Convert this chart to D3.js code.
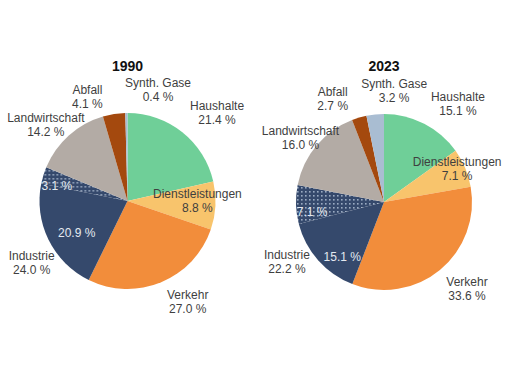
<!DOCTYPE html>
<html lang="de">
<head>
<meta charset="UTF-8">
<title>Emissionen nach Sektor 1990 / 2023</title>
<script src="https://cdn.jsdelivr.net/npm/d3@7"></script>
<style>
  body { margin: 0; background: #fff; }
  svg text { font-family: "Liberation Sans", Arial, sans-serif; }
</style>
</head>
<body>
<svg id="chart" width="510" height="373"></svg>
<script>
// Sektoren im Uhrzeigersinn ab 12 Uhr
var sectors = ['Haushalte', 'Dienstleistungen', 'Verkehr', 'Industrie', 'Industrie (Prozess)', 'Landwirtschaft', 'Abfall', 'Synth. Gase']
var years = ['1990', '2023']
var values1990 = [21.4, 8.8, 27.0, 20.9, 3.1, 14.2, 4.1, 0.4]
var values2023 = [15.1, 7.1, 33.6, 15.1, 7.1, 16.0, 2.7, 3.2]
var industrieTotal = [24.0, 22.2]
var colors = ['#6fcf98', '#f8c46c', '#f28d3b', '#35496c', 'dots', '#b3aba5', '#a4490e', '#a9bdd2']

// Label-Verschiebung gegenüber dem Bogenschwerpunkt [dx, dy]
var nudge1990 = [[16, 4], [-5, -4], [15, -8], [3, 5], [1, 7], [-3, 12], [-22, 12], [32, 7]]
var nudge2023 = [[20, 7], [4, -4], [8, -4], [3, 15], [3, 8], [7, 11], [-18, 10], [22, 6]]
var industrieNudge = [[10, 10], [-9, -19]]

var svg = d3.select('#chart')
var R = 88
var centers = [[127.5, 201], [384, 202]]

var defs = svg.append('defs')
var pat = defs.append('pattern').attr('id', 'dots')
  .attr('width', 4).attr('height', 4).attr('patternUnits', 'userSpaceOnUse')
pat.append('rect').attr('width', 4).attr('height', 4).attr('fill', '#35496c')
pat.append('rect').attr('x', 1).attr('y', 1).attr('width', 1.6).attr('height', 1.6).attr('fill', '#9aabc2')

var pie = d3.pie().sort(null).value(function (d) { return d })
var arc = d3.arc().innerRadius(0).outerRadius(R)
var outerArc = d3.arc().innerRadius(118).outerRadius(118)
var midArc = d3.arc().innerRadius(75).outerRadius(75)
var innerArc = d3.arc().innerRadius(60).outerRadius(60)

function fmt (v) { return v.toFixed(1) + ' %' }

function drawLabel (g, pos, lines, color) {
  var t = g.append('text')
    .attr('text-anchor', 'middle')
    .attr('font-size', 12)
    .attr('fill', color)
  var off = (lines.length - 1) * 7
  lines.forEach(function (l, i) {
    t.append('tspan').attr('x', pos[0]).attr('y', pos[1] - off + i * 14)
      .attr('dy', '0.35em').text(l)
  })
}

[values1990, values2023].forEach(function (vals, k) {
  var nudge = k === 0 ? nudge1990 : nudge2023
  var g = svg.append('g').attr('transform', 'translate(' + centers[k][0] + ',' + centers[k][1] + ')')
  var arcs = pie(vals)

  g.selectAll('path').data(arcs).enter().append('path')
    .attr('d', arc)
    .attr('fill', function (d, i) { return colors[i] === 'dots' ? 'url(#dots)' : colors[i] })

  svg.append('text')
    .attr('x', centers[k][0]).attr('y', 71)
    .attr('text-anchor', 'middle')
    .attr('font-size', 14).attr('font-weight', 'bold').attr('fill', '#111')
    .text(years[k])

  arcs.forEach(function (d, i) {
    var c, lines, color = '#3f3f3f'
    if (i === 3 || i === 4) {
      c = i === 3 ? innerArc.centroid(d) : midArc.centroid(d)
      lines = [fmt(vals[i])]
      color = '#e4e9f0'
    } else if (i === 1) {
      c = midArc.centroid(d)
      lines = [sectors[i], fmt(vals[i])]
    } else {
      c = outerArc.centroid(d)
      lines = [sectors[i], fmt(vals[i])]
    }
    drawLabel(g, [c[0] + nudge[i][0], c[1] + nudge[i][1]], lines, color)
    if (i === 3) {
      var o = outerArc.centroid(d)
      drawLabel(g, [o[0] + industrieNudge[k][0], o[1] + industrieNudge[k][1]],
        ['Industrie', fmt(industrieTotal[k])], '#3f3f3f')
    }
  })
})
</script>
</body>
</html>
